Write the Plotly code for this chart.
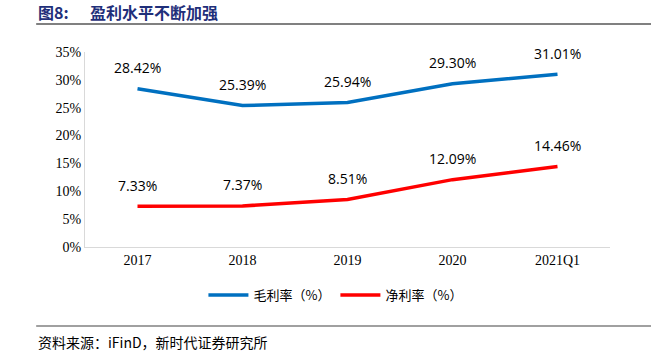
import plotly.graph_objects as go

categories = ["2017", "2018", "2019", "2020", "2021Q1"]
gross_margin = [28.42, 25.39, 25.94, 29.30, 31.01]
net_margin = [7.33, 7.37, 8.51, 12.09, 14.46]
y_ticks = [0, 5, 10, 15, 20, 25, 30, 35]
y_tick_labels = [f"{v}%" for v in y_ticks]

label_font = dict(family="Open Sans, Liberation Sans", size=14, color="#000000")

fig = go.Figure()
fig.add_trace(go.Scatter(
    x=categories, y=gross_margin, name="毛利率（%）", mode="lines",
    line=dict(color="#0070C0", width=3.5),
))
fig.add_trace(go.Scatter(
    x=categories, y=net_margin, name="净利率（%）", mode="lines",
    line=dict(color="#FF0000", width=3.5),
))

annotations = []
for series in (gross_margin, net_margin):
    for i, v in enumerate(series):
        annotations.append(dict(x=i, y=v, xref="x", yref="y", text=f"{v:.2f}%",
                                showarrow=False, yshift=21, font=label_font))

annotations += [
    dict(text="<b>图8:</b>", xref="paper", yref="paper",
         x=-0.093, y=1.205, xanchor="left", yanchor="middle", showarrow=False,
         font=dict(family="Noto Sans CJK SC", size=16, color="#1F2F7A")),
    dict(text="<b>盈利水平不断加强</b>", xref="paper", yref="paper",
         x=0.006, y=1.205, xanchor="left", yanchor="middle", showarrow=False,
         font=dict(family="Noto Sans CJK SC", size=16, color="#1F2F7A")),
    dict(text="资料来源：iFinD，新时代证券研究所", xref="paper", yref="paper",
         x=-0.093, y=-0.485, xanchor="left", yanchor="middle", showarrow=False,
         font=dict(family="Noto Sans CJK SC", size=14, color="#000000")),
]

fig.update_layout(
    width=651, height=362,
    margin=dict(l=85, r=41, t=52, b=115, autoexpand=False),
    paper_bgcolor="white", plot_bgcolor="white",
    showlegend=True,
    legend=dict(orientation="h", x=0.477, xanchor="center", y=-0.246, yanchor="middle",
                font=dict(family="Noto Sans CJK SC", size=13, color="#000000"),
                itemwidth=40),
    xaxis=dict(type="category", showgrid=False, showline=True, linecolor="#D9D9D9", linewidth=1,
               ticks="", tickfont=dict(family="Liberation Serif", size=14, color="#000000"),
               range=[-0.5, 4.5]),
    yaxis=dict(range=[0, 35], tickvals=y_ticks, ticktext=y_tick_labels, showgrid=False,
               showline=True, linecolor="#D9D9D9", linewidth=1, ticks="", zeroline=False,
               tickfont=dict(family="Liberation Serif", size=14, color="#000000")),
    shapes=[
        dict(type="line", xref="paper", yref="paper", x0=-0.093, x1=1.1, y0=1.144, y1=1.144,
             line=dict(color="#808080", width=2)),
        dict(type="line", xref="paper", yref="paper", x0=-0.093, x1=1.1, y0=-0.405, y1=-0.405,
             line=dict(color="#808080", width=1.5)),
    ],
    annotations=annotations,
)

fig.write_html("out.html", config={"displayModeBar": False},
               post_script="document.body.style.margin='0';")
